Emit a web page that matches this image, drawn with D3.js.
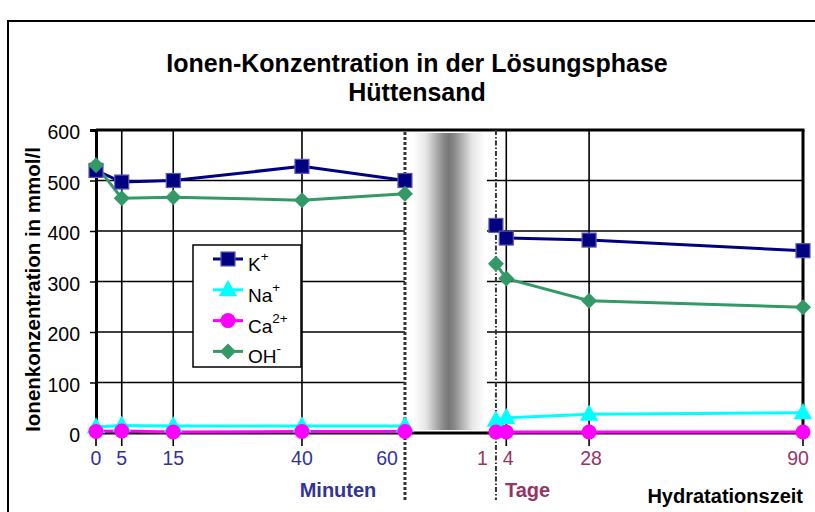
<!DOCTYPE html>
<html>
<head>
<meta charset="utf-8">
<script src="https://cdn.jsdelivr.net/npm/d3@7"></script>
<style>
  html, body { margin: 0; padding: 0; background: #fff; }
  svg { display: block; font-family: "Liberation Sans", Arial, sans-serif; }
</style>
</head>
<body>
<svg id="chart" width="815" height="512"></svg>
<script>
// Sampling times: minutes after mixing, then days
const minutes = [0, 5, 15, 40, 60];
const days = [1, 4, 28, 90];

// Ion concentrations in mmol/l
const kMin  = [520, 497, 500, 528, 500];
const kDay  = [411, 386, 382, 361];
const naMin = [12, 15, 14, 14, 14];
const naDay = [25, 30, 37, 40];
const caMin = [3, 4, 2, 3, 3];
const caDay = [2, 2, 2, 2];
const ohMin = [530, 465, 467, 461, 474];
const ohDay = [335, 306, 262, 249];

const yTicks = [0, 100, 200, 300, 400, 500, 600];
const minuteLabels = ["0", "5", "15", "40", "60"];
const dayLabels = ["1", "4", "28", "90"];

const series = [
  { name: "K",  sup: "+",  color: "#000080", marker: "square",   minV: kMin,  dayV: kDay },
  { name: "Na", sup: "+",  color: "#00FFFF", marker: "triangle", minV: naMin, dayV: naDay },
  { name: "Ca", sup: "2+", color: "#FF00FF", marker: "circle",   minV: caMin, dayV: caDay },
  { name: "OH", sup: "-",  color: "#339966", marker: "diamond",  minV: ohMin, dayV: ohDay }
];

const svg = d3.select("#chart");
const plot = { left: 96, right: 803, top: 130, bottom: 433 };
const W = plot.right - plot.left;

const y = d3.scaleLinear().domain([0, 600]).range([plot.bottom, plot.top]);
const xMin = d3.scaleLinear().domain([0, 60]).range([plot.left, plot.left + 0.437 * W]);
const xDay = d3.scaleLinear().domain([0, 90]).range([plot.left + 0.5608 * W, plot.right]);
const gapL = xMin(60), gapR = plot.left + 0.553 * W;

// outer chart frame
svg.append("rect").attr("x", 8).attr("y", 21).attr("width", 830).attr("height", 520)
  .attr("fill", "none").attr("stroke", "#000").attr("stroke-width", 2);

// title
const title = svg.append("text").attr("text-anchor", "middle")
  .attr("font-weight", "bold").attr("font-size", 25).attr("fill", "#000");
title.append("tspan").attr("x", 417).attr("y", 72).text("Ionen-Konzentration in der Lösungsphase");
title.append("tspan").attr("x", 417).attr("y", 101).text("Hüttensand");

// break band between the minute and day sections
const defs = svg.append("defs");
const grad = defs.append("linearGradient").attr("id", "gapGrad")
  .attr("x1", "0%").attr("x2", "100%").attr("y1", "0%").attr("y2", "0%");
[[0, "#ffffff"], [0.18, "#e6e6e6"], [0.42, "#8a8a8a"], [0.5, "#777777"], [0.58, "#8a8a8a"], [0.82, "#e6e6e6"], [1, "#ffffff"]]
  .forEach(([o, c]) => grad.append("stop").attr("offset", o).attr("stop-color", c));
svg.append("rect").attr("x", gapL + 8).attr("y", plot.top + 3)
  .attr("width", gapR - gapL - 10).attr("height", plot.bottom - plot.top - 6)
  .attr("fill", "url(#gapGrad)");

// horizontal gridlines (interrupted at the break)
const grid = svg.append("g").attr("stroke", "#000").attr("stroke-width", 1.3);
yTicks.filter(v => v > 0 && v < 600).forEach(v => {
  grid.append("line").attr("x1", plot.left).attr("x2", gapL).attr("y1", y(v)).attr("y2", y(v));
  grid.append("line").attr("x1", gapR).attr("x2", plot.right).attr("y1", y(v)).attr("y2", y(v));
});

// vertical gridlines with tick marks below the axis
const vgrid = svg.append("g").attr("stroke", "#000").attr("stroke-width", 1.6);
minutes.slice(1, -1).forEach(m => vgrid.append("line")
  .attr("x1", xMin(m)).attr("x2", xMin(m)).attr("y1", plot.top).attr("y2", plot.bottom + 13));
days.slice(1, -1).forEach(d => vgrid.append("line")
  .attr("x1", xDay(d)).attr("x2", xDay(d)).attr("y1", plot.top).attr("y2", plot.bottom + 13));
vgrid.append("line").attr("x1", plot.left).attr("x2", plot.left).attr("y1", plot.bottom).attr("y2", plot.bottom + 13);
vgrid.append("line").attr("x1", plot.right).attr("x2", plot.right).attr("y1", plot.bottom).attr("y2", plot.bottom + 13);

// plot frame: top, right and bottom edges
const frame = svg.append("g").attr("stroke", "#000").attr("stroke-width", 3).attr("fill", "none");
frame.append("line").attr("x1", plot.left).attr("x2", plot.right + 1.5).attr("y1", plot.top).attr("y2", plot.top);
frame.append("line").attr("x1", plot.right).attr("x2", plot.right).attr("y1", plot.top).attr("y2", plot.bottom);
frame.append("line").attr("x1", plot.left).attr("x2", plot.right).attr("y1", plot.bottom).attr("y2", plot.bottom);

// y axis
const yAxis = svg.append("g").attr("transform", `translate(${plot.left},0)`)
  .call(d3.axisLeft(y).tickValues(yTicks).tickSize(6).tickFormat(d3.format("d")));
yAxis.select(".domain").attr("stroke", "#000").attr("stroke-width", 3);
yAxis.selectAll(".tick line").attr("stroke", "#000").attr("stroke-width", 1.5);
yAxis.selectAll(".tick text").attr("font-size", 19.5).attr("fill", "#000")
  .attr("font-family", "'Liberation Sans', Arial, sans-serif").attr("x", -16).attr("dy", "0.45em");

// dashed separators at 60 minutes and 1 day
svg.append("line").attr("x1", xMin(60)).attr("x2", xMin(60)).attr("y1", plot.top + 2).attr("y2", 500)
  .attr("stroke", "#333").attr("stroke-width", 3).attr("stroke-dasharray", "3,2");
svg.append("line").attr("x1", xDay(1)).attr("x2", xDay(1)).attr("y1", plot.top).attr("y2", 500)
  .attr("stroke", "#333").attr("stroke-width", 2).attr("stroke-dasharray", "5,2,1.5,2");

// x tick labels
const minLab = svg.append("g").attr("font-size", 19.5).attr("fill", "#333399");
minutes.forEach((m, i) => {
  const last = i === minutes.length - 1;
  minLab.append("text").attr("x", xMin(m) + (last ? -7 : 0)).attr("y", 465)
    .attr("text-anchor", last ? "end" : "middle").text(minuteLabels[i]);
});
const dayLab = svg.append("g").attr("font-size", 19.5).attr("fill", "#993366");
days.forEach((d, i) => {
  const first = i === 0, last = i === days.length - 1;
  dayLab.append("text").attr("x", xDay(d) + (first ? -8 : last ? -5 : 2)).attr("y", 465)
    .attr("text-anchor", first ? "end" : "middle").text(dayLabels[i]);
});

svg.append("text").attr("x", 338).attr("y", 497).attr("text-anchor", "middle")
  .attr("font-size", 20).attr("font-weight", "bold").attr("fill", "#333399").text("Minuten");
svg.append("text").attr("x", 505).attr("y", 497)
  .attr("font-size", 20).attr("font-weight", "bold").attr("fill", "#993366").text("Tage");
svg.append("text").attr("x", 803).attr("y", 503).attr("text-anchor", "end")
  .attr("font-size", 20).attr("font-weight", "bold").attr("fill", "#000").text("Hydratationszeit");

// y axis title
svg.append("text").attr("transform", `translate(40,${(plot.top + plot.bottom) / 2 + 8}) rotate(-90)`)
  .attr("text-anchor", "middle").attr("font-size", 20.5).attr("font-weight", "bold").attr("fill", "#000")
  .text("Ionenkonzentration in mmol/l");

// marker drawing helper
function drawMarker(g, type, color, cx, cy) {
  if (type === "square") {
    g.append("rect").attr("x", cx - 7).attr("y", cy - 7).attr("width", 14).attr("height", 14)
      .attr("fill", color).attr("stroke", "#5a5ab4").attr("stroke-width", 1.2);
  } else if (type === "triangle") {
    g.append("path").attr("d", d3.symbol(d3.symbolTriangle, 150)())
      .attr("transform", `translate(${cx},${cy + 1})`).attr("fill", color);
  } else if (type === "circle") {
    g.append("circle").attr("cx", cx).attr("cy", cy).attr("r", 7.5).attr("fill", color);
  } else {
    g.append("path").attr("d", `M0,-8L8,0L0,8L-8,0Z`)
      .attr("transform", `translate(${cx},${cy})`).attr("fill", color);
  }
}

// data series: minute section and day section drawn as separate lines
const line = d3.line();
const dataG = svg.append("g");
series.forEach(s => {
  const ptsMin = minutes.map((m, i) => [xMin(m), y(s.minV[i])]);
  const ptsDay = days.map((d, i) => [xDay(d), y(s.dayV[i])]);
  [ptsMin, ptsDay].forEach(pts => {
    dataG.append("path").attr("d", line(pts)).attr("fill", "none")
      .attr("stroke", s.color).attr("stroke-width", 3);
  });
});
series.forEach(s => {
  minutes.forEach((m, i) => drawMarker(dataG, s.marker, s.color, xMin(m), y(s.minV[i])));
  days.forEach((d, i) => drawMarker(dataG, s.marker, s.color, xDay(d), y(s.dayV[i])));
});

// legend
const lg = svg.append("g");
lg.append("rect").attr("x", 193).attr("y", 245).attr("width", 108).attr("height", 122)
  .attr("fill", "#fff").attr("stroke", "#000").attr("stroke-width", 1.5);
series.forEach((s, i) => {
  const ly = 259 + i * 30.8;
  lg.append("line").attr("x1", 213).attr("x2", 243).attr("y1", ly).attr("y2", ly)
    .attr("stroke", s.color).attr("stroke-width", 3);
  drawMarker(lg, s.marker, s.color, 228, ly);
  const t = lg.append("text").attr("x", 248).attr("y", ly + 12).attr("font-size", 19).attr("fill", "#000");
  t.append("tspan").text(s.name);
  t.append("tspan").attr("dy", -10).attr("font-size", 13.5).text(s.sup);
});
</script>
</body>
</html>
